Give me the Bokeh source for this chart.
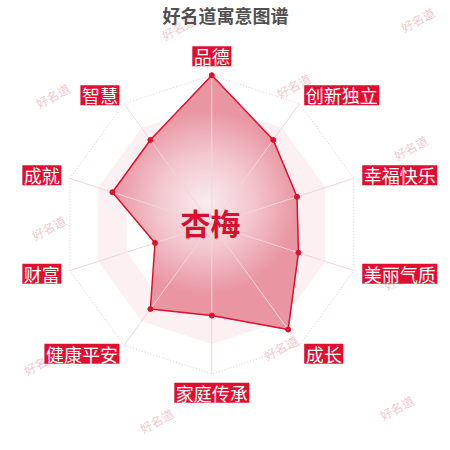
import numpy as np
from bokeh.plotting import figure
from bokeh.models import Range1d
from bokeh.core.properties import value
from bokeh.embed import file_html
from bokeh.resources import INLINE

# ---------------- data ----------------
chart_title = "好名道寓意图谱"
center_name = "杏梅"
categories = ["品德", "创新独立", "幸福快乐", "美丽气质", "成长",
              "家庭传承", "健康平安", "财富", "成就", "智慧"]
scores = [100, 70, 60, 61, 87, 61, 70, 40, 70, 70]
max_score = 100
split_number = 5
watermark_text = "好名道"

# ---------------- layout ----------------
W = H = 442
K = 149.3 / max_score          # px per score unit
CX, CY = 211.3, 224.0           # chart centre in figure pixels
x0, x1 = -CX / K, (W - CX) / K
y0, y1 = -(H - CY) / K, CY / K
FONT = "Noto Sans CJK SC"
RED = "#e0102f"

def px_to_data(px, py):
    return (px - CX) / K, (CY - py) / K

p = figure(width=W, height=H, x_range=Range1d(x0, x1), y_range=Range1d(y0, y1),
           output_backend="svg", toolbar_location=None, min_border=0)
p.axis.visible = False
p.grid.visible = False
p.outline_line_color = None
p.background_fill_color = "white"
p.border_fill_color = "white"

n = len(categories)
theta = np.arange(n) * 2 * np.pi / n
sx, sy = np.sin(theta), np.cos(theta)

# ---------------- watermarks ----------------
wm_px = [(178, 27), (293, 85), (410, 147), (417, 19),
         (52, 95), (168, 155), (284, 215), (400, 277),
         (48, 227), (164, 287), (280, 347), (396, 407),
         (40, 362), (156, 420)]
wm = [px_to_data(a, b) for a, b in wm_px]
p.text(x=[a for a, b in wm], y=[b for a, b in wm], text=[watermark_text] * len(wm),
       angle=0.5, text_font=value(FONT), text_font_size="12px", text_color="#f1c9cf",
       text_align="center", text_baseline="middle")

# ---------------- split areas ----------------
def ring(r):
    return list(r * sx), list(r * sy)

band_xs, band_ys = [], []
for lo, hi in [(0.2, 0.4), (0.6, 0.8)]:
    ox, oy = ring(hi * max_score)
    ix, iy = ring(lo * max_score)
    band_xs.append([[ox, ix]])
    band_ys.append([[oy, iy]])
p.multi_polygons(xs=band_xs, ys=band_ys, fill_color="#fcf0f2", line_color=None)

ox, oy = ring(max_score)
p.line(ox + [ox[0]], oy + [oy[0]], line_color="#eec6cc", line_width=1, line_dash="1 2")

# ---------------- data polygon with radial gradient ----------------
sc = np.array(scores, dtype=float)
vx, vy = sc * sx, sc * sy
xmin, xmax, ymin, ymax = vx.min(), vx.max(), vy.min(), vy.max()
nx = int(np.ceil((xmax - xmin) * K * 2)) + 1
ny = int(np.ceil((ymax - ymin) * K * 2)) + 1
gx = xmin + (np.arange(nx) + 0.5) / nx * (xmax - xmin)
gy = ymin + (np.arange(ny) + 0.5) / ny * (ymax - ymin)
PX, PY = np.meshgrid(gx, gy)

inside = np.zeros(PX.shape, dtype=bool)
j = n - 1
for i in range(n):
    yi, yj, xi, xj = vy[i], vy[j], vx[i], vx[j]
    cond = ((yi > PY) != (yj > PY))
    with np.errstate(divide="ignore", invalid="ignore"):
        xint = (xj - xi) * (PY - yi) / (yj - yi) + xi
    inside ^= cond & (PX < xint)
    j = i

gcx, gcy = (xmin + xmax) / 2, (ymin + ymax) / 2
gr = 0.5 * min(xmax - xmin, ymax - ymin)
t = np.clip(np.hypot(PX - gcx, PY - gcy) / gr, 0, 1)
stops_t = [0.0, 0.5, 1.0]
stops_c = np.array([[249, 237, 240], [244, 200, 207], [233, 150, 162]], dtype=float)
rgb = np.stack([np.interp(t, stops_t, stops_c[:, c]) for c in range(3)], axis=-1)

img = np.zeros((ny, nx), dtype=np.uint32)
view = img.view(dtype=np.uint8).reshape((ny, nx, 4))
view[..., 0] = rgb[..., 0].astype(np.uint8)
view[..., 1] = rgb[..., 1].astype(np.uint8)
view[..., 2] = rgb[..., 2].astype(np.uint8)
view[..., 3] = np.where(inside, 255, 0).astype(np.uint8)
p.image_rgba(image=[img], x=xmin, y=ymin, dw=xmax - xmin, dh=ymax - ymin)

# axis lines
p.segment(x0=[0] * n, y0=[0] * n, x1=list(max_score * sx), y1=list(max_score * sy),
          line_color="#f3d5da", line_width=1)

# outline and points
p.line(list(vx) + [vx[0]], list(vy) + [vy[0]], line_color=RED, line_width=1.5)
p.scatter(list(vx), list(vy), size=5, fill_color=RED, line_color=RED)

# ---------------- category labels ----------------
R_NAME = 1.07 * max_score
FS = 18
PAD = 1.5
BOX_H = 20
bx, by, bw = [], [], []
for i, name in enumerate(categories):
    ax, ay = R_NAME * sx[i], R_NAME * sy[i]
    w = FS * len(name) + 3
    if sx[i] > 0.01:
        cxv = ax + (w / 2 - PAD) / K
    elif sx[i] < -0.01:
        cxv = ax - (w / 2 - PAD) / K
    else:
        cxv = ax
    if sy[i] > 0.99:
        cyv = ay + (BOX_H / 2 - PAD) / K
    elif sy[i] < -0.99:
        cyv = ay - (BOX_H / 2 - PAD) / K
    else:
        cyv = ay
    bx.append(cxv)
    by.append(cyv)
    bw.append(w)

p.rect(x=bx, y=by, width=bw, height=[BOX_H] * n, width_units="screen",
       height_units="screen", fill_color="#e20e30", line_color=None)
p.text(x=bx, y=by, text=categories, text_font=value(FONT), text_font_size=f"{FS}px",
       text_color="white", text_align="center", text_baseline="middle")

# ---------------- centre name and title ----------------
cnx, cny = px_to_data(210, 221.5)
p.text(x=[cnx], y=[cny], text=[center_name], text_font=value(FONT),
       text_font_size="30px", text_font_style="bold", text_color="#d71030",
       text_align="center", text_baseline="middle")
tx, ty = px_to_data(225, 1)
p.text(x=[tx], y=[ty], text=[chart_title], text_font=value(FONT),
       text_font_size="18px", text_font_style="bold", text_color="#505050",
       text_align="center", text_baseline="top")

open("out.html", "w").write(file_html(p, INLINE))
